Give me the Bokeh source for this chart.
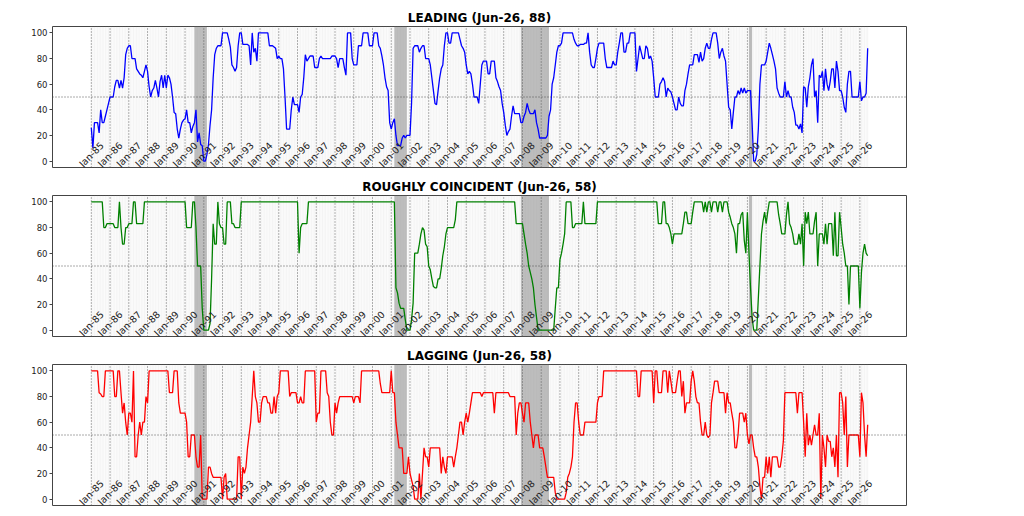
import numpy as np
from math import pi
from bokeh.plotting import figure
from bokeh.layouts import column
from bokeh.models import Range1d, FixedTicker, Span
from bokeh.embed import file_html
from bokeh.resources import INLINE
from bokeh.core.properties import value

start_year = 1985
last_label = "Jun-26"

leading = [
    26, 10, 30, 30, 30, 22, 40, 30, 30, 35, 40, 45,        # 1985
    50, 50, 50, 58, 63, 63, 57, 63, 57, 65, 83, 88,        # 1986
    90, 90, 80, 80, 80, 72, 70, 68, 67, 65, 70, 75,        # 1987
    70, 58, 50, 55, 57, 63, 57, 50, 62, 67, 57, 67,        # 1988
    57, 67, 65, 60, 50, 38, 37, 25, 18, 25, 30, 32,        # 1989
    33, 40, 30, 30, 22, 27, 30, 40, 15, 22, 13, 12,        # 1990
    0, 0, 5, 13, 28, 40, 65, 83, 88, 90, 90, 90,           # 1991
    100, 100, 100, 100, 95, 89, 75, 73, 70, 73, 90, 100,   # 1992
    100, 91, 91, 91, 91, 90, 75, 100, 85, 88, 78, 100,     # 1993
    100, 100, 100, 100, 100, 100, 90, 90, 90, 89, 88, 80,  # 1994
    82, 80, 80, 72, 50, 25, 25, 25, 40, 50, 44, 44,        # 1995
    44, 38, 50, 52, 65, 83, 78, 80, 82, 82, 82, 73,        # 1996
    73, 73, 80, 82, 80, 80, 80, 80, 80, 80, 82, 82,        # 1997
    82, 80, 73, 80, 80, 80, 73, 67, 100, 100, 100, 80,     # 1998
    75, 75, 75, 90, 90, 90, 100, 100, 100, 100, 90, 90,    # 1999
    90, 100, 100, 100, 90, 88, 82, 75, 65, 58, 55, 30,     # 2000
    25, 30, 33, 20, 12, 12, 12, 18, 20, 18, 20, 20,        # 2001
    20, 45, 88, 90, 90, 90, 85, 88, 90, 90, 80, 80,        # 2002
    80, 75, 65, 55, 45, 44, 55, 65, 72, 75, 90, 100,       # 2003
    100, 92, 92, 100, 100, 100, 100, 100, 95, 90, 88, 85,  # 2004
    75, 68, 70, 68, 60, 50, 50, 50, 45, 60, 75, 78,        # 2005
    78, 78, 68, 68, 78, 78, 78, 65, 62, 58, 55, 45,        # 2006
    38, 28, 20, 23, 25, 35, 43, 37, 37, 37, 37, 30,        # 2007
    30, 35, 38, 45, 40, 37, 37, 37, 40, 30, 25, 18,        # 2008
    18, 18, 18, 18, 20, 35, 40, 60, 65, 75, 85, 90,        # 2009
    90, 92, 100, 100, 100, 100, 100, 100, 100, 95, 92, 90, # 2010
    90, 91, 91, 91, 92, 92, 100, 85, 75, 73, 73, 80,       # 2011
    88, 92, 92, 92, 92, 80, 73, 73, 73, 73, 78, 75,        # 2012
    75, 85, 92, 100, 100, 85, 85, 92, 92, 100, 100, 100,   # 2013
    100, 70, 80, 90, 85, 80, 80, 90, 88, 80, 82, 78,       # 2014
    65, 50, 50, 50, 60, 62, 65, 62, 50, 57, 55, 54,        # 2015
    50, 45, 40, 40, 50, 45, 43, 43, 55, 60, 68, 75,        # 2016
    75, 75, 83, 83, 83, 77, 85, 78, 80, 88, 92, 88,        # 2017
    88, 95, 100, 100, 100, 92, 80, 85, 88, 82, 78, 60,     # 2018
    42, 40, 25, 38, 50, 50, 55, 52, 57, 53, 57, 53,        # 2019
    55, 55, 55, 30, 0, 0, 5, 25, 60, 75, 75, 75,           # 2020
    78, 85, 92, 88, 83, 78, 72, 57, 53, 50, 50, 50,        # 2021
    62, 50, 55, 50, 50, 42, 38, 28, 28, 25, 29, 22,        # 2022
    58, 57, 42, 58, 65, 75, 80, 50, 55, 30, 67, 65,        # 2023
    70, 55, 72, 60, 55, 62, 72, 72, 57, 78, 70, 55,        # 2024
    55, 50, 42, 38, 60, 70, 70, 50, 50, 50, 50, 50,        # 2025
    62, 47, 50, 50, 53, 88,                                # 2026
]

coincident = [
    100, 100, 100, 100, 100, 100, 100, 100, 80, 80, 83, 83,  # 1985
    83, 83, 83, 80, 80, 80, 100, 80, 67, 67, 80, 80,         # 1986
    83, 83, 83, 100, 100, 83, 83, 83, 83, 83, 100, 100,      # 1987
    100, 100, 100, 100, 100, 100, 100, 100, 100, 100, 100, 100,  # 1988
    100, 100, 100, 100, 100, 100, 100, 100, 100, 100, 100, 100,  # 1989
    100, 80, 80, 80, 80, 100, 100, 80, 50, 50, 50, 17,       # 1990
    0, 0, 0, 0, 5, 40, 83, 67, 67, 100, 83, 80,              # 1991
    80, 67, 67, 100, 100, 100, 83, 83, 80, 80, 80, 80,       # 1992
    100, 100, 100, 100, 100, 100, 100, 100, 100, 100, 100, 100,  # 1993
    100, 100, 100, 100, 100, 100, 100, 100, 100, 100, 100, 100,  # 1994
    100, 100, 100, 100, 100, 100, 100, 100, 100, 100, 100, 100,  # 1995
    100, 60, 80, 83, 83, 83, 83, 100, 100, 100, 100, 100,    # 1996
    100, 100, 100, 100, 100, 100, 100, 100, 100, 100, 100, 100,  # 1997
    100, 100, 100, 100, 100, 100, 100, 100, 100, 100, 100, 100,  # 1998
    100, 100, 100, 100, 100, 100, 100, 100, 100, 100, 100, 100,  # 1999
    100, 100, 100, 100, 100, 100, 100, 100, 100, 100, 100, 100,  # 2000
    100, 100, 100, 33, 29, 21, 17, 17, 17, 8, 0, 0,          # 2001
    0, 8, 21, 60, 60, 60, 67, 75, 80, 78, 67, 65,            # 2002
    50, 47, 40, 34, 33, 33, 40, 40, 48, 58, 65, 75,          # 2003
    80, 80, 80, 80, 80, 86, 100, 100, 100, 100, 100, 100,    # 2004
    100, 100, 100, 100, 100, 100, 100, 100, 100, 100, 100, 100,  # 2005
    100, 100, 100, 100, 100, 100, 100, 100, 100, 100, 100, 100,  # 2006
    100, 100, 100, 100, 100, 100, 100, 100, 83, 83, 83, 83,  # 2007
    83, 75, 67, 60, 50, 45, 40, 33, 20, 10, 0, 0,            # 2008
    0, 0, 0, 0, 0, 0, 0, 0, 0, 17, 33, 33,                   # 2009
    55, 60, 67, 75, 100, 100, 100, 100, 80, 80, 83, 83,      # 2010
    83, 83, 83, 100, 83, 83, 83, 83, 83, 83, 83, 83,         # 2011
    100, 100, 100, 100, 100, 100, 100, 100, 100, 100, 100, 100,  # 2012
    100, 100, 100, 100, 100, 100, 100, 100, 100, 100, 100, 100,  # 2013
    100, 100, 100, 100, 100, 100, 100, 100, 100, 100, 100, 100,  # 2014
    100, 100, 100, 83, 83, 83, 100, 100, 83, 83, 80, 75,     # 2015
    67, 75, 75, 75, 75, 75, 75, 83, 92, 92, 83, 83,          # 2016
    83, 92, 100, 100, 100, 100, 100, 100, 92, 100, 92, 100,  # 2017
    100, 92, 100, 100, 100, 92, 100, 100, 92, 100, 100, 100, # 2018
    92, 88, 83, 80, 75, 60, 83, 83, 90, 92, 70, 60,          # 2019
    92, 60, 33, 10, 0, 0, 0, 25, 50, 75, 85, 92,             # 2020
    83, 92, 100, 100, 100, 100, 100, 100, 90, 83, 75, 75,    # 2021
    75, 90, 100, 83, 80, 75, 67, 67, 67, 75, 67, 83,         # 2022
    50, 92, 83, 92, 75, 75, 75, 85, 92, 50, 75, 75,          # 2023
    75, 67, 83, 67, 83, 83, 83, 58, 92, 58, 58, 92,          # 2024
    80, 67, 60, 50, 50, 20, 50, 50, 50, 50, 50, 50,          # 2025
    17, 45, 60, 67, 60, 58,                                  # 2026
]

lagging = [
    100, 100, 100, 100, 100, 83, 82, 80, 80, 100, 100, 100,  # 1985
    100, 100, 100, 80, 80, 100, 100, 83, 67, 75, 60, 50,     # 1986
    67, 67, 60, 100, 33, 33, 50, 60, 50, 60, 60, 80,         # 1987
    75, 100, 100, 100, 100, 100, 100, 100, 100, 100, 100, 100,  # 1988
    100, 100, 83, 83, 83, 100, 100, 100, 75, 67, 67, 67,     # 1989
    67, 60, 33, 33, 50, 50, 50, 33, 25, 25, 50, 0,           # 1990
    0, 0, 0, 25, 25, 20, 17, 17, 17, 17, 17, 17,             # 1991
    0, 17, 20, 0, 0, 0, 0, 0, 0, 0, 33, 33,                  # 1992
    0, 25, 20, 25, 40, 50, 60, 80, 100, 80, 75, 60,          # 1993
    60, 75, 80, 80, 80, 75, 75, 67, 67, 80, 67, 80,          # 1994
    83, 100, 100, 100, 100, 100, 100, 80, 83, 83, 83, 83,    # 1995
    75, 75, 80, 75, 75, 100, 100, 100, 100, 100, 100, 100,   # 1996
    60, 67, 67, 100, 100, 100, 100, 83, 80, 60, 50, 50,      # 1997
    75, 67, 75, 80, 80, 80, 80, 80, 80, 80, 80, 80,          # 1998
    75, 80, 80, 80, 75, 100, 100, 100, 100, 100, 100, 100,   # 1999
    100, 100, 100, 100, 100, 90, 83, 83, 83, 83, 83, 83,     # 2000
    100, 83, 83, 60, 50, 40, 40, 40, 20, 20, 20, 33,         # 2001
    20, 15, 10, 0, 0, 0, 20, 0, 20, 40, 33, 33,              # 2002
    25, 40, 40, 40, 40, 40, 40, 40, 20, 33, 25, 20,          # 2003
    33, 33, 33, 33, 25, 33, 40, 50, 60, 60, 50, 60,          # 2004
    67, 60, 67, 75, 83, 83, 83, 83, 83, 83, 80, 83,          # 2005
    83, 83, 83, 83, 83, 83, 67, 83, 83, 83, 83, 83,          # 2006
    83, 83, 83, 83, 80, 80, 80, 80, 50, 67, 75, 75,          # 2007
    67, 60, 75, 75, 75, 60, 50, 40, 50, 50, 50, 40,          # 2008
    40, 40, 33, 25, 17, 17, 17, 17, 17, 5, 0, 0,             # 2009
    0, 0, 0, 0, 5, 17, 20, 25, 33, 60, 75, 75,               # 2010
    60, 50, 50, 50, 60, 60, 60, 60, 60, 60, 60, 60,          # 2011
    75, 80, 80, 80, 100, 100, 100, 100, 100, 100, 100, 100,  # 2012
    100, 100, 100, 100, 100, 100, 100, 100, 100, 100, 100, 100,  # 2013
    100, 100, 80, 80, 100, 100, 100, 100, 100, 100, 100, 100,    # 2014
    75, 100, 100, 83, 83, 83, 100, 100, 100, 83, 100, 92,    # 2015
    83, 83, 83, 92, 100, 100, 80, 92, 67, 75, 75, 75,        # 2016
    92, 100, 92, 80, 75, 75, 60, 50, 50, 60, 50, 48,         # 2017
    50, 75, 83, 92, 92, 92, 83, 83, 83, 83, 67, 83,          # 2018
    75, 75, 67, 60, 40, 40, 50, 67, 67, 67, 60, 67,          # 2019
    50, 43, 50, 50, 40, 33, 33, 25, 10, 0, 17, 17,           # 2020
    33, 20, 33, 17, 33, 33, 33, 33, 25, 25, 33, 45,          # 2021
    83, 83, 83, 83, 83, 83, 83, 83, 67, 83, 83, 83,          # 2022
    60, 33, 67, 42, 50, 42, 50, 58, 50, 50, 67, 0,           # 2023
    50, 40, 25, 50, 45, 45, 33, 40, 25, 50, 17, 83,          # 2024
    83, 75, 50, 80, 25, 50, 50, 50, 50, 50, 50, 50,          # 2025
    33, 83, 75, 50, 33, 58,                                  # 2026
]

# NBER recessions (start year, start month, end year, end month)
rec_start = [(1990, 7), (2001, 3), (2007, 12), (2020, 2)]
rec_end = [(1991, 3), (2001, 11), (2009, 6), (2020, 4)]

tick_years = list(range(1985, 2027))
tick_labels = ["Jan-%02d" % (y % 100) for y in tick_years]

panel_names = ["LEADING", "ROUGHLY COINCIDENT", "LAGGING"]
panel_values = [leading, coincident, lagging]
panel_colors = ["#0000ff", "#008000", "#ff0000"]

FONT = "DejaVu Sans"

n = len(leading)
t = start_year + np.arange(n) / 12.0
span = t[-1] - t[0]
x_lo, x_hi = t[0] - 0.05 * span, t[-1] + 0.05 * span
y_lo, y_hi = -5, 105

rec_l = [y + (m - 1) / 12.0 for y, m in rec_start]
rec_r = [y + (m - 1) / 12.0 for y, m in rec_end]
tick_x = [float(y) for y in tick_years]

figs = []
for i, (name, vals, col) in enumerate(zip(panel_names, panel_values, panel_colors)):
    p = figure(frame_width=854, frame_height=141,
               x_range=Range1d(x_lo, x_hi), y_range=Range1d(y_lo, y_hi),
               output_backend="svg", toolbar_location=None,
               min_border_left=52, min_border_right=10,
               min_border_top=(26 if i == 0 else 18),
               min_border_bottom=(9 if i < 2 else 3),
               title="%s (%s, %d)" % (name, last_label, vals[-1]))
    p.title.align = "center"
    p.title.text_font = FONT
    p.title.text_font_size = "12px"
    p.title.text_font_style = "bold"
    p.title.text_color = "#000000"
    p.title.standoff = 3
    p.xaxis.visible = False
    p.xgrid.visible = False
    p.ygrid.visible = False
    p.outline_line_color = "#444444"
    p.outline_line_width = 1
    p.background_fill_color = "#ffffff"
    p.border_fill_color = "#ffffff"

    ya = p.yaxis[0]
    ya.ticker = FixedTicker(ticks=[0, 20, 40, 60, 80, 100])
    ya.major_label_text_font = FONT
    ya.major_label_text_font_size = "8.5px"
    ya.major_label_text_color = "#222222"
    ya.major_tick_out = 3
    ya.major_tick_in = 0
    ya.minor_tick_out = 0
    ya.minor_tick_in = 0
    ya.major_tick_line_color = "#444444"
    ya.axis_line_color = None
    ya.major_label_standoff = 2

    # faint monthly stripes
    p.segment(x0=t, y0=y_lo, x1=t, y1=y_hi, line_color="#c8c8c8",
              line_alpha=0.35, line_width=0.6)
    # recession shading
    p.quad(left=rec_l, right=rec_r, bottom=y_lo, top=y_hi,
           fill_color="#808080", fill_alpha=0.5, line_color=None)
    # January dotted lines
    p.segment(x0=tick_x, y0=y_lo, x1=tick_x, y1=y_hi, line_color="#555555",
              line_dash="1 2", line_width=0.9)
    p.add_layout(Span(location=50, dimension="width", line_color="#444444",
                      line_dash="1 2", line_width=0.9))
    # series
    p.line(t, vals, line_color=col, line_width=1.3)
    # rotated tick labels inside the frame
    p.text(x=tick_x, y=[y_lo] * len(tick_x), text=tick_labels, angle=pi / 4,
           y_offset=-13, text_align="center", text_baseline="middle",
           text_font=value(FONT), text_font_size="9.5px", text_color="#222222")
    figs.append(p)

layout = column(*figs, spacing=0)
open("out.html", "w").write(file_html(layout, INLINE))
